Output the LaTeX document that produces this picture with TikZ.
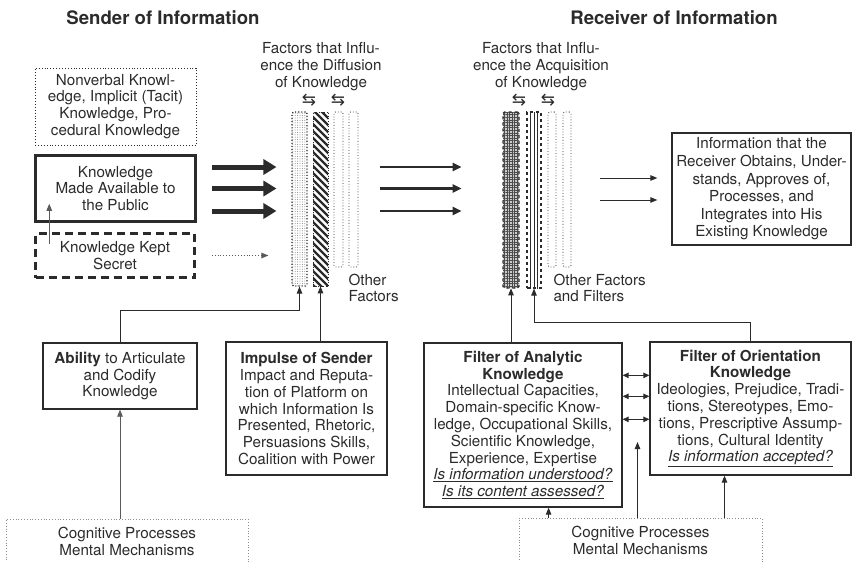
\documentclass[tikz,border=0pt]{standalone}
\usepackage{fontspec}
\setmainfont{TeX Gyre Heros}
\newfontfamily\symfont{DejaVu Sans}
\usetikzlibrary{arrows.meta,calc,patterns.meta}
\definecolor{ink}{HTML}{2B2B2B}
\definecolor{soft}{HTML}{5A5A5A}
\definecolor{dotgray}{HTML}{8C8C8C}

\begin{document}
\begin{tikzpicture}[x=1pt, y=-1pt,
  font=\fontsize{15.2}{16.8}\selectfont, text=ink,
  box/.style={draw=ink, line width=1.3pt, align=center, inner sep=0pt},
  dotbox/.style={draw=ink, line width=0.9pt, dotted, align=center, inner sep=0pt},
  cogbox/.style={draw=dotgray, line width=0.8pt, dotted, align=center, anchor=north, inner sep=0pt},
  ttl/.style={font=\fontsize{18.6}{21}\selectfont\bfseries},
  lbl/.style={align=center},
  swap/.style={font=\symfont\fontsize{17}{17}\selectfont},
  bar/.style={inner sep=0pt, rounded corners=1.5pt},
  fat/.style={-{Triangle[length=13pt,width=15pt]}, draw=ink, line width=5pt},
  mid/.style={-{Triangle[length=9pt,width=8pt]}, draw=ink, line width=2.5pt},
  thin/.style={-{Triangle[length=7pt,width=5.5pt]}, draw=ink, line width=0.9pt},
  grey/.style={-{Triangle[length=7pt,width=5.5pt]}, draw=soft, line width=0.8pt},
  both/.style={{Triangle[length=6pt,width=5.5pt]}-{Triangle[length=6pt,width=5.5pt]}, draw=ink, line width=0.9pt}]
\useasboundingbox (0,0) rectangle (854,562);
\clip (0,0) rectangle (854,562);

% titles
\node[ttl] (sendt) at (163,18) {Sender of Information};
\node[ttl] (recvt) at (674,18) {Receiver of Information};

% sender side
\node[dotbox, minimum width=161, minimum height=77] (tacit) at (115.5,106.5)
  {Nonverbal Knowl-\\edge, Implicit (Tacit)\\Knowledge, Pro-\\cedural Knowledge};
\node[box, line width=2.5pt, minimum width=160, minimum height=66] (avail) at (115.5,188.5)
  {Knowledge\\Made Available to\\the Public};
\node[box, line width=2.5pt, dash pattern=on 8pt off 5pt, minimum width=159, minimum height=44] (secret) at (115,255.5)
  {Knowledge Kept\\Secret};
\draw[grey] ($(secret.north west)+(15,12)$) -- ($(avail.south west)+(15,-19)$);

% diffusion filters
\node[lbl] (difft) at (321,66.5) {Factors that Influ-\\ence the Diffusion\\of Knowledge};
\node[swap] (dsw1) at (309,100) {⇆};
\node[swap] (dsw2) at (338,100) {⇆};
\node[bar, draw=ink, dotted, line width=1.1pt, pattern={Dots[distance=2.4pt,radius=0.5pt]}, pattern color=gray,
  minimum width=15, minimum height=174] (dbar1) at (299.5,199) {};
\node[bar, rounded corners=0pt, draw=ink, dotted, line width=0.6pt, minimum width=15, minimum height=174,
  path picture={
    \foreach \k in {0,7,...,196}
      \draw[ink, solid, line width=2.3pt] ($(path picture bounding box.north west)+(-2,\k-18)$) -- ++(20,20);}] (dbar2) at (320.5,199) {};
\node[bar, draw=ink, dotted, line width=0.8pt, minimum width=9, minimum height=155] (dbar3) at (338.5,189.5) {};
\node[bar, draw=ink, dotted, line width=0.8pt, minimum width=9, minimum height=155] (dbar4) at (353.5,189.5) {};
\node[align=left, anchor=west] (dother) at (345,288) {Other\\Factors};

\foreach \dy in {-21.5,0,22.5}
  \draw[fat] ($(avail.east)+(15,\dy)$) -- ($(avail.east -| dbar1.west)+(-15,\dy)$);
\draw[thin, dotted, draw=soft] ($(secret.east)+(16,0)$) -- ($(secret.east -| dbar1.west)+(-23,0)$);

% acquisition filters
\node[lbl] (acqt) at (541,66.5) {Factors that Influ-\\ence the Acquisition\\of Knowledge};
\node[swap] (asw1) at (519,100) {⇆};
\node[swap] (asw2) at (548,100) {⇆};
\node[bar, draw=ink, dashed, line width=1.2pt, preaction={fill=gray!40},
  pattern={Hatch[distance=2.6pt,line width=0.7pt]}, pattern color=ink!85,
  minimum width=16, minimum height=176] (abar1) at (511,200) {};
\node[bar, rounded corners=0pt, draw=ink, dashed, line width=1.2pt, minimum width=14, minimum height=176,
  path picture={
    \draw[ink, solid, line width=0.8pt] ($(path picture bounding box.north west)+(3.5,-1)$) rectangle ($(path picture bounding box.south east)+(-3.5,1)$);
    \draw[ink, solid, line width=0.8pt] (path picture bounding box.north) -- (path picture bounding box.south);}] (abar2) at (534,200) {};
\node[bar, draw=ink, dotted, line width=0.8pt, minimum width=8, minimum height=155] (abar3) at (552,189.5) {};
\node[bar, draw=ink, dotted, line width=0.8pt, minimum width=8, minimum height=155] (abar4) at (567,189.5) {};
\node[align=left, anchor=west] (aother) at (550,288) {Other Factors\\and Filters};

\foreach \dy in {-21.5,0,22.5}
  \draw[mid] ($(dbar4.east |- avail.east)+(22,\dy)$) -- ($(abar1.west |- avail.east)+(-41,\dy)$);

% receiver result
\node[box, minimum width=179, minimum height=112, font=\fontsize{15.2}{17.6}\selectfont] (info) at (761.5,189)
  {Information that the\\Receiver Obtains, Under-\\stands, Approves of,\\Processes, and\\Integrates into His\\Existing Knowledge};
\foreach \dy in {-11,11}
  \draw[thin] ($(abar4.east |- info.west)+(29,\dy)$) -- ($(info.west)+(-14,\dy)$);

% sender capacities
\node[box, minimum width=154, minimum height=66] (abil) at (120,376)
  {\textbf{Ability} to Articulate\\and Codify\\Knowledge};
\node[box, minimum width=161, minimum height=133] (impl) at (306.5,408.5)
  {\textbf{Impulse of Sender}\\Impact and Reputa-\\tion of Platform on\\which Information Is\\Presented, Rhetoric,\\Persuasions Skills,\\Coalition with Power};
\draw[thin] (abil.north) |- ($(dbar1.south)+(0,24)$) -- (dbar1.south);
\draw[thin] (dbar2.south |- impl.north) -- (dbar2.south);

% receiver filters
\node[box, minimum width=198, minimum height=164] (anal) at (523,425)
  {\textbf{Filter of Analytic}\\\textbf{Knowledge}\\Intellectual Capacities,\\Domain-specific Know-\\ledge, Occupational Skills,\\Scientific Knowledge,\\Experience, Expertise\\\underline{\textit{Is information understood?}}\\\underline{\textit{Is its content assessed?}}};
\node[box, minimum width=201, minimum height=133] (orient) at (750.5,408.5)
  {\textbf{Filter of Orientation}\\\textbf{Knowledge}\\Ideologies, Prejudice, Tradi-\\tions, Stereotypes, Emo-\\tions, Prescriptive Assump-\\tions, Cultural Identity\\\underline{\textit{Is information accepted?}}};
\draw[thin] (abar1.south |- anal.north) -- (abar1.south);
\draw[thin] (orient.north) |- ($(abar2.south)+(0,34)$) -- (abar2.south);
\foreach \dy in {33,54,77}
  \draw[both] ($(anal.north east)+(0,\dy)$) -- ($(orient.west |- anal.north east)+(0,\dy)$);

% cognitive bases
\node[cogbox, minimum width=242, minimum height=50] (cogl) at (127,519)
  {\\[-12pt]Cognitive Processes\\Mental Mechanisms};
\node[cogbox, minimum width=243, minimum height=50] (cogr) at (640.5,518)
  {\\[-12pt]Cognitive Processes\\Mental Mechanisms};
\coordinate (cgap) at ($(cogr.north)+(-3,-76)$);
\coordinate (cana) at ($(cogr.north west)+(30,0)$);
\coordinate (cori) at ($(cogr.north)+(84,0)$);
\draw[grey] (abil.south |- cogl.north) -- (abil.south);
\draw[thin] (cana) -- (cana |- anal.south);
\draw[thin] (cogr.north -| cgap) -- (cgap);
\draw[thin] (cori) -- (cori |- orient.south);
\end{tikzpicture}
\end{document}
